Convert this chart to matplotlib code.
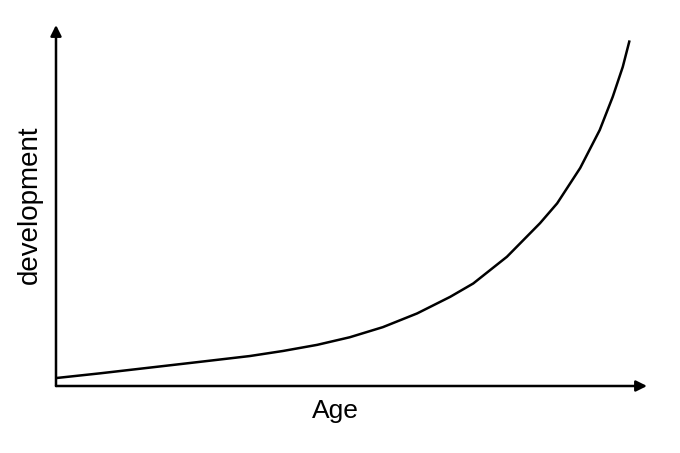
import matplotlib.pyplot as plt

# points
age = [0.00, 0.74, 1.59, 2.44, 3.28, 3.84, 4.42, 4.97, 5.53, 6.11, 6.67, 7.06,
       7.63, 8.19, 8.48, 8.87, 9.20, 9.42, 9.59, 9.70]
development = [0.22, 0.35, 0.51, 0.67, 0.83, 0.97, 1.14, 1.35, 1.63, 2.01, 2.47, 2.84,
               3.58, 4.51, 5.06, 6.04, 7.09, 8.01, 8.84, 9.54]

plt.rcParams["font.family"] = ["Liberation Sans", "DejaVu Sans"]

fig = plt.figure(figsize=(6.8, 4.53), dpi=100)
ax = fig.add_axes([56 / 680, (453 - 386) / 453, 591 / 680, 361 / 453])
ax.set_xlim(0, 10)
ax.set_ylim(0, 10)
ax.axis("off")

ax.plot(age, development, color="black", lw=1.8, solid_joinstyle="round")

arrow = dict(arrowstyle="-|>", color="black", lw=1.8, mutation_scale=16, shrinkA=0, shrinkB=0)
ax.annotate("", xy=(10, 0), xytext=(0, 0), arrowprops=arrow)
ax.annotate("", xy=(0, 10), xytext=(0, 0), arrowprops=arrow)

fig.text(335 / 680, 1 - 411 / 453, "Age", ha="center", va="center", fontsize=19)
fig.text(30 / 680, 1 - 205 / 453, "development", ha="center", va="center", rotation=90, fontsize=20)

fig.savefig("out.png", dpi=100, facecolor="white")
